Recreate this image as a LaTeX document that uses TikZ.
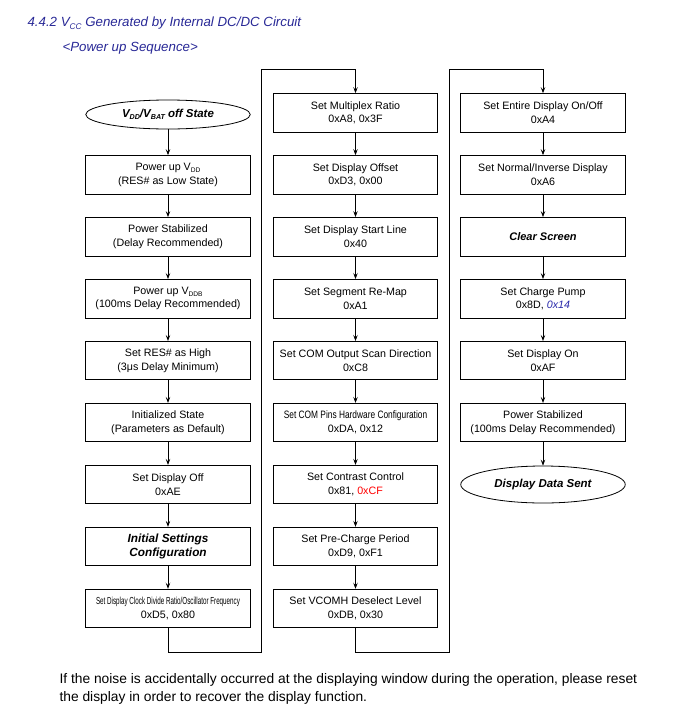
\documentclass[tikz,border=0pt]{standalone}
\usepackage{fontspec}
\setmainfont{Liberation Sans}
\usetikzlibrary{shapes.geometric,arrows.meta}
\definecolor{headblue}{RGB}{40,40,150}
\definecolor{valblue}{RGB}{40,40,170}
\newcommand{\lsub}[1]{\raisebox{-0.3ex}{\scalebox{0.62}{#1}}}

\begin{document}
\begin{tikzpicture}[x=1pt,y=-1pt]

    \tikzset{
      stepbox/.style={
        draw,
        line width=0.8pt,
        minimum width=164.5pt,
        minimum height=38.5pt,
        inner sep=0pt,
        align=center,
        font=\fontsize{10.7}{13.5}\selectfont,
      },
      statebox/.style={
        draw,
        ellipse,
        line width=0.8pt,
        minimum width=164.5pt,
        inner sep=0pt,
        font=\fontsize{11.5}{13}\selectfont\bfseries\itshape,
      },
      flow/.style={
        -{Stealth[length=6pt,width=4.5pt,inset=2.5pt]},
        line width=0.6pt,
      },
    }
    \useasboundingbox (0,0) rectangle (693,713);
	\draw [color={headblue}] (24,23.5) node[anchor = west, font=\fontsize{13.3}{15}\selectfont\itshape] (title) {4.4.2 V\lsub{CC} Generated by Internal DC/DC Circuit};
	\draw [color={headblue}] (59,48.5) node[anchor = west, font=\fontsize{13.3}{15}\selectfont\itshape] (subtitle) {<Power up Sequence>};

	\node[statebox, minimum height=29pt] (offstate) at (168,114.5) {V\lsub{DD}/V\lsub{BAT} off State};
	\node[stepbox] (pwrvdd) at (168,174.75) {Power up V\lsub{DD}\\(RES\# as Low State)};
	\node[stepbox] (stable) at (168,236.7) {Power Stabilized\\(Delay Recommended)};
	\node[stepbox] (pwrvddb) at (168,298.65) {Power up V\lsub{DDB}\\(100ms Delay Recommended)};
	\node[stepbox] (reshigh) at (168,360.6) {Set RES\# as High\\(3μs Delay Minimum)};
	\node[stepbox] (initstate) at (168,422.55) {Initialized State\\(Parameters as Default)};
	\node[stepbox] (dispoff) at (168,484.5) {Set Display Off\\0xAE};
	\node[stepbox, font=\fontsize{11.8}{14}\selectfont\bfseries\itshape] (initcfg) at (168,546.45) {Initial Settings\\Configuration};
	\node[stepbox] (clkdiv) at (168,608.4) {\scalebox{0.615}[1]{\fontsize{10.2}{11}\selectfont Set Display Clock Divide Ratio/Oscillator Frequency}\\0xD5, 0x80};

	\node[stepbox] (muxratio) at (355.5,112.8) {Set Multiplex Ratio\\0xA8, 0x3F};
	\node[stepbox] (dispoffset) at (355.5,174.75) {Set Display Offset\\0xD3, 0x00};
	\node[stepbox] (startline) at (355.5,236.7) {Set Display Start Line\\0x40};
	\node[stepbox] (segremap) at (355.5,298.65) {Set Segment Re-Map\\0xA1};
	\node[stepbox] (comscan) at (355.5,360.6) {Set COM Output Scan Direction\\0xC8};
	\node[stepbox] (compins) at (355.5,422.55) {\scalebox{0.78}[1]{Set COM Pins Hardware Configuration}\\0xDA, 0x12};
	\node[stepbox] (contrast) at (355.5,484.5) {Set Contrast Control\\0x81, \textcolor{red}{0xCF}};
	\node[stepbox] (precharge) at (355.5,546.45) {Set Pre-Charge Period\\0xD9, 0xF1};
	\node[stepbox] (vcomh) at (355.5,608.4) {Set VCOMH Deselect Level\\0xDB, 0x30};

	\node[stepbox] (entireon) at (543,112.8) {Set Entire Display On/Off\\0xA4};
	\node[stepbox] (normalinv) at (543,174.75) {Set Normal/Inverse Display\\0xA6};
	\node[stepbox, font=\fontsize{11}{13.5}\selectfont\bfseries\itshape] (clear) at (543,236.7) {Clear Screen};
	\node[stepbox] (chgpump) at (543,298.65) {Set Charge Pump\\0x8D, \textcolor{valblue}{\itshape 0x14}};
	\node[stepbox] (dispon) at (543,360.6) {Set Display On\\0xAF};
	\node[stepbox] (pwrstable) at (543,422.55) {Power Stabilized\\(100ms Delay Recommended)};
	\node[statebox, minimum height=37pt] (datasent) at (543,484.5) {Display Data Sent};

	\foreach \a/\b in {offstate/pwrvdd, pwrvdd/stable, stable/pwrvddb, pwrvddb/reshigh, reshigh/initstate, initstate/dispoff, dispoff/initcfg, initcfg/clkdiv,
	  muxratio/dispoffset, dispoffset/startline, startline/segremap, segremap/comscan, comscan/compins, compins/contrast, contrast/precharge, precharge/vcomh,
	  entireon/normalinv, normalinv/clear, clear/chgpump, chgpump/dispon, dispon/pwrstable, pwrstable/datasent}
	  \draw[flow] (\a) -- (\b);

	\coordinate (jumpA1) at (261.7,652);
	\coordinate (jumpA2) at (261.7,69.3);
	\coordinate (jumpB1) at (449.3,652);
	\coordinate (jumpB2) at (449.3,69.3);
	\draw[flow] (clkdiv.south) |- (jumpA1) -- (jumpA2) -| (muxratio.north);
	\draw[flow] (vcomh.south) |- (jumpB1) -- (jumpB2) -| (entireon.north);

	\draw [color={black}] (56,689) node[anchor = west, align=left, font=\fontsize{13.8}{17.5}\selectfont] (note) {If the noise is accidentally occurred at the displaying window during the operation, please reset\\the display in order to recover the display function.};

\end{tikzpicture}
\end{document}
